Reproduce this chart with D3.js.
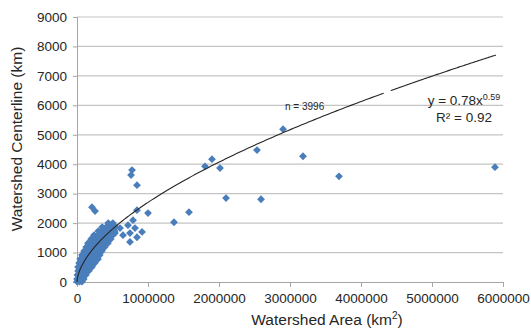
<!DOCTYPE html>
<html>
<head>
<meta charset="utf-8">
<script src="https://cdn.jsdelivr.net/npm/d3@7"></script>
<style>
  body { margin: 0; background: #fff; }
  svg text { font-family: "Liberation Sans", Arial, sans-serif; fill: #262626; }
</style>
</head>
<body>
<div id="chart"></div>
<script>
// x tick values (km2) and y tick values (km)
const xTicks = [0, 1000000, 2000000, 3000000, 4000000, 5000000, 6000000];
const yTicks = [0, 1000, 2000, 3000, 4000, 5000, 6000, 7000, 8000, 9000];

// dense cloud of small watersheds near the origin [area km2, centerline km]
const smallBasins = [
  [0,10],[35000,10],[70000,10],
  [0,100],[50000,100],[95000,100],
  [5000,240],[45000,240],[90000,240],[125000,240],
  [15000,375],[60000,375],[110000,375],[165000,375],
  [15000,510],[65000,510],[115000,510],[165000,510],[210000,510],
  [30000,645],[85000,645],[140000,645],[195000,645],[250000,645],
  [45000,780],[100000,780],[155000,780],[210000,780],[260000,780],[295000,780],
  [70000,915],[125000,915],[180000,915],[235000,915],[285000,915],[320000,915],
  [100000,1050],[155000,1050],[210000,1050],[265000,1050],[315000,1050],[350000,1050],
  [130000,1185],[185000,1185],[240000,1185],[295000,1185],[345000,1185],[390000,1185],
  [155000,1320],[210000,1320],[265000,1320],[320000,1320],[375000,1320],[435000,1320],
  [200000,1460],[255000,1460],[310000,1460],[365000,1460],[420000,1460],[475000,1460],
  [240000,1595],[300000,1595],[355000,1595],[410000,1595],[460000,1595],[505000,1595],
  [300000,1730],[355000,1730],[410000,1730],[465000,1730],[530000,1730],
  [355000,1865],[410000,1865],[470000,1865],[545000,1865],
  [440000,2000],[505000,2000]
];

// scattered larger watersheds
const largeBasins = [
  [211000,2540],[254000,2410],[845000,2440],[1000000,2340],[789000,2100],
  [465000,1930],[606000,1830],[718000,1930],[817000,1830],[746000,1660],
  [916000,1700],[648000,1590],[845000,1520],[746000,1360],[535000,1660],
  [775000,3800],[761000,3630],[845000,3290],
  [1577000,2370],[1366000,2030],[1803000,3930],[1901000,4170],[2014000,3870],
  [2099000,2850],[2535000,4480],[2592000,2810],[2902000,5190],[3183000,4270],
  [3690000,3590],[5887000,3900]
];

// power trendline y = 0.78 x^0.59, drawn in two pieces like the original
const trendCoef = 0.78;
const trendExp = 0.59;
const trendPieces = [[0, 4320000], [4420000, 5900000]];

const width = 531, height = 333;
const margin = {top: 17, right: 28, bottom: 51, left: 77};
const w = width - margin.left - margin.right;
const h = height - margin.top - margin.bottom;

const svg = d3.select('#chart').append('svg')
  .attr('width', width)
  .attr('height', height);

const g = svg.append('g')
  .attr('transform', `translate(${margin.left}, ${margin.top})`);

const x = d3.scaleLinear().domain([0, 6000000]).range([0, w]);
const y = d3.scaleLinear().domain([0, 9000]).range([h, 0]);

// gridlines
g.append('g')
  .selectAll('line')
  .data(yTicks.slice(1))
  .join('line')
    .attr('x1', 0).attr('x2', w)
    .attr('y1', d => y(d)).attr('y2', d => y(d))
    .attr('stroke', '#c4c4c4')
    .attr('stroke-width', 1.2);

// y axis
const yAxis = g.append('g')
  .call(d3.axisLeft(y).tickValues(yTicks).tickSize(4).tickPadding(6).tickFormat(d3.format('d')));
yAxis.select('.domain').attr('stroke', '#a6a6a6');
yAxis.selectAll('.tick line').attr('stroke', '#a6a6a6');
yAxis.selectAll('text').style('font-size', '13.5px').attr('fill', '#262626');

// x axis
const xAxis = g.append('g')
  .attr('transform', `translate(0, ${h})`)
  .call(d3.axisBottom(x).tickValues(xTicks).tickSize(5).tickPadding(6).tickFormat(d3.format('d')));
xAxis.select('.domain').attr('stroke', '#a6a6a6');
xAxis.selectAll('.tick line').attr('stroke', '#a6a6a6');
xAxis.selectAll('text').style('font-size', '13.5px').attr('fill', '#262626');

// points
const diamond = 'M0,-3.9L3.9,0L0,3.9L-3.9,0Z';
g.append('g')
  .selectAll('path')
  .data(smallBasins.concat(largeBasins))
  .join('path')
    .attr('d', diamond)
    .attr('transform', d => `translate(${x(d[0])}, ${y(d[1])})`)
    .attr('fill', '#4a7ebb');

// trendline
const line = d3.line()
  .x(d => x(d))
  .y(d => y(trendCoef * Math.pow(d, trendExp)));

trendPieces.forEach(([a, b]) => {
  const xs = d3.range(0, 1.0001, 0.005).map(t => a + (b - a) * t * t);
  g.append('path')
    .attr('d', line(xs))
    .attr('fill', 'none')
    .attr('stroke', '#262626')
    .attr('stroke-width', 1.1);
});

// annotations
g.append('text')
  .attr('x', 208).attr('y', 93)
  .style('font-size', '10px')
  .text('n = 3996');

const eq = g.append('text')
  .attr('x', 387).attr('y', 88)
  .attr('text-anchor', 'middle')
  .style('font-size', '13.5px');
eq.append('tspan').text('y = 0.78x');
eq.append('tspan').attr('dy', -5).style('font-size', '9px').text('0.59');

g.append('text')
  .attr('x', 387).attr('y', 105)
  .attr('text-anchor', 'middle')
  .style('font-size', '13.5px')
  .text('R² = 0.92');

// axis titles
svg.append('text')
  .attr('transform', 'translate(22, 139) rotate(-90)')
  .attr('text-anchor', 'middle')
  .style('font-size', '15.5px')
  .text('Watershed Centerline (km)');

const xt = svg.append('text')
  .attr('x', 327).attr('y', 325)
  .attr('text-anchor', 'middle')
  .style('font-size', '15.5px');
xt.append('tspan').text('Watershed Area (km');
xt.append('tspan').attr('dy', -6).style('font-size', '10px').text('2');
xt.append('tspan').attr('dy', 6).text(')');
</script>
</body>
</html>
